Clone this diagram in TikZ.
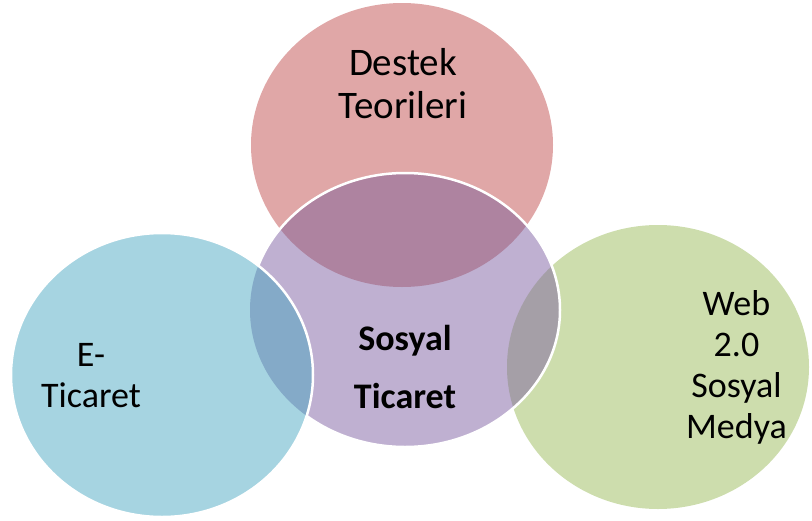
\documentclass[tikz,border=0pt]{standalone}
\usepackage{fontspec}
\setmainfont{Carlito}
\definecolor{pinkc}{RGB}{224,167,167}
\definecolor{purplec}{RGB}{191,176,209}
\definecolor{mauvec}{RGB}{174,131,160}
\definecolor{bluec}{RGB}{166,212,225}
\definecolor{bluegrayc}{RGB}{132,170,200}
\definecolor{greenc}{RGB}{205,221,173}
\definecolor{grayc}{RGB}{165,159,167}
\tikzset{
  rim/.style={draw=white, line width=2.5pt},
  lbl/.style={align=center, anchor=base, text=black, inner sep=0pt,
              font=\fontsize{36}{41}\selectfont},
  lblbig/.style={lbl, font=\fontsize{39}{43}\selectfont},
  lblbold/.style={lbl, font=\fontsize{36}{58}\selectfont\bfseries}
}
\begin{document}
\begin{tikzpicture}[x=1pt,y=-1pt]
\useasboundingbox (0,0) rectangle (812,520);
% circle centres and radii
\coordinate (ctop) at (402,145);
\coordinate (cmid) at (405,310);
\coordinate (cleft) at (162,375);
\coordinate (cright) at (658,367);
\def\toppath{(ctop) ellipse [x radius=151, y radius=142]}
\def\midpath{(cmid) ellipse [x radius=155, y radius=137]}
\def\leftpath{(cleft) ellipse [x radius=151, y radius=142]}
\def\rightpath{(cright) ellipse [x radius=151, y radius=142]}
% back circles
\fill[pinkc] \toppath;
\fill[greenc] \rightpath;
% centre circle and its overlaps
\fill[purplec] \midpath;
\begin{scope}
  \clip \midpath;
  \fill[mauvec] \toppath;
  \fill[grayc] \rightpath;
\end{scope}
\draw[rim] \midpath;
% left circle on top
\fill[bluec] \leftpath;
\begin{scope}
  \clip \leftpath;
  \fill[bluegrayc] \midpath;
\end{scope}
\draw[rim] \leftpath;
% labels (anchored at the baseline of their last line)
\node[lblbig] (destek) at (403,118) {Destek\\Teorileri};
\node[lblbold] (sosyal) at (405,408) {Sosyal\\Ticaret};
\node[lbl] (eticaret) at (91,407) {E-\\Ticaret};
\node[lbl] (web) at (736.5,438) {Web\\2.0\\Sosyal\\Medya};
\end{tikzpicture}
\end{document}
